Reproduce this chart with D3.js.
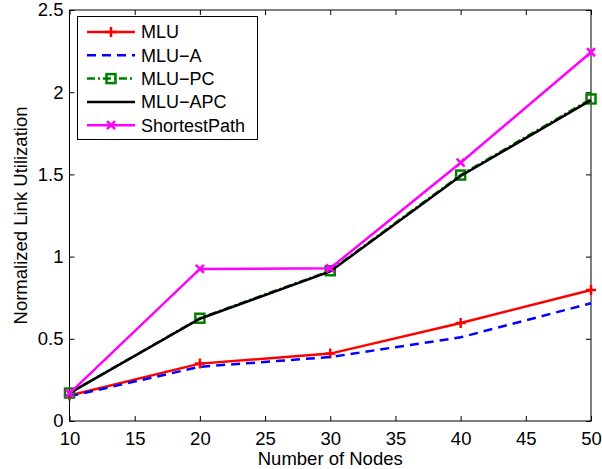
<!DOCTYPE html>
<html>
<head>
<meta charset="utf-8">
<script src="https://cdn.jsdelivr.net/npm/d3@7"></script>
<style>
  body { margin: 0; background: #fff; }
  text { font-family: "Liberation Sans", Arial, sans-serif; fill: #000; }
</style>
</head>
<body>
<script>
// data
const nodes = [10, 20, 30, 40, 50];
const mlu = [0.155, 0.349, 0.41, 0.596, 0.797];
const mluA = [0.15, 0.33, 0.389, 0.509, 0.716];
const mluPC = [0.17, 0.625, 0.914, 1.496, 1.959];
const mluAPC = [0.17, 0.622, 0.91, 1.49, 1.952];
const shortestPath = [0.168, 0.925, 0.929, 1.571, 2.243];
const xTicks = [10, 15, 20, 25, 30, 35, 40, 45, 50];
const yTicks = [0, 0.5, 1, 1.5, 2, 2.5];

const series = [
  { name: "MLU", values: mlu, color: "#ff0000", dash: null, marker: "plus" },
  { name: "MLU\u2212A", values: mluA, color: "#0000ff", dash: "9,6", marker: null },
  { name: "MLU\u2212PC", values: mluPC, color: "#008000", dash: "8,3,2,3", marker: "square" },
  { name: "MLU\u2212APC", values: mluAPC, color: "#000000", dash: null, marker: null },
  { name: "ShortestPath", values: shortestPath, color: "#ff00ff", dash: null, marker: "cross" },
];

const width = 602, height = 469;
const plotL = 69.5, plotR = 591, plotT = 10, plotB = 421;

const svg = d3.select("body").append("svg")
  .attr("width", width)
  .attr("height", height);

const x = d3.scaleLinear().domain([10, 50]).range([plotL, plotR]);
const y = d3.scaleLinear().domain([0, 2.5]).range([plotB, plotT]);

// Box
svg.append("rect")
  .attr("x", plotL).attr("y", plotT)
  .attr("width", plotR - plotL).attr("height", plotB - plotT)
  .attr("fill", "none").attr("stroke", "#000").attr("stroke-width", 1);

// Axes with inward ticks
const xAxis = svg.append("g")
  .attr("transform", `translate(0,${plotB})`)
  .call(d3.axisBottom(x).tickValues(xTicks).tickSizeInner(-5).tickSizeOuter(0).tickPadding(11));
const xTop = svg.append("g")
  .attr("transform", `translate(0,${plotT})`)
  .call(d3.axisTop(x).tickValues(xTicks).tickSizeInner(-5).tickSizeOuter(0).tickFormat(""));
const yAxis = svg.append("g")
  .attr("transform", `translate(${plotL},0)`)
  .call(d3.axisLeft(y).tickValues(yTicks).tickSizeInner(-5).tickSizeOuter(0).tickPadding(6).tickFormat(d3.format("")));
const yRight = svg.append("g")
  .attr("transform", `translate(${plotR},0)`)
  .call(d3.axisRight(y).tickValues(yTicks).tickSizeInner(-5).tickSizeOuter(0).tickFormat(""));

[xAxis, xTop, yAxis, yRight].forEach(g => {
  g.select(".domain").remove();
  g.selectAll("line").attr("stroke", "#000");
  g.selectAll("text").style("font-size", "18.5px").attr("fill", "#000");
});

// Axis titles
svg.append("text")
  .attr("x", (plotL + plotR) / 2).attr("y", 465)
  .attr("text-anchor", "middle")
  .style("font-size", "18.5px")
  .text("Number of Nodes");

svg.append("text")
  .attr("transform", `translate(27,${(plotT + plotB) / 2}) rotate(-90)`)
  .attr("text-anchor", "middle")
  .style("font-size", "18.5px")
  .text("Normalized Link Utilization");

// Lines
const line = d3.line()
  .x((d, i) => x(nodes[i]))
  .y(d => y(d));

function drawMarker(g, type, cx, cy, color) {
  if (type === "plus") {
    g.append("path")
      .attr("d", `M${cx - 5},${cy}H${cx + 5}M${cx},${cy - 5}V${cy + 5}`)
      .attr("stroke", color).attr("stroke-width", 2.5).attr("fill", "none");
  } else if (type === "cross") {
    g.append("path")
      .attr("d", `M${cx - 4},${cy - 4}L${cx + 4},${cy + 4}M${cx - 4},${cy + 4}L${cx + 4},${cy - 4}`)
      .attr("stroke", color).attr("stroke-width", 2.5).attr("fill", "none");
  } else if (type === "square") {
    g.append("rect")
      .attr("x", cx - 4.5).attr("y", cy - 4.5)
      .attr("width", 9).attr("height", 9)
      .attr("stroke", color).attr("stroke-width", 2.5).attr("fill", "none");
  }
}

series.forEach(s => {
  const g = svg.append("g");
  g.append("path")
    .datum(s.values)
    .attr("d", line)
    .attr("fill", "none")
    .attr("stroke", s.color)
    .attr("stroke-width", 2.5)
    .attr("stroke-dasharray", s.dash);
  if (s.marker) {
    s.values.forEach((v, i) => drawMarker(g, s.marker, x(nodes[i]), y(v), s.color));
  }
});

// Legend
const legend = svg.append("g");
legend.append("rect")
  .attr("x", 77.5).attr("y", 16.5)
  .attr("width", 180).attr("height", 123)
  .attr("fill", "#fff").attr("stroke", "#000").attr("stroke-width", 1);

series.forEach((s, i) => {
  const ly = 32 + i * 23.3;
  legend.append("path")
    .attr("d", `M87,${ly}H135`)
    .attr("stroke", s.color)
    .attr("stroke-width", 2.5)
    .attr("stroke-dasharray", s.dash);
  if (s.marker) drawMarker(legend, s.marker, 111, ly, s.color);
  legend.append("text")
    .attr("x", 141).attr("y", ly + 6.3)
    .style("font-size", "18px")
    .text(s.name);
});
</script>
</body>
</html>
